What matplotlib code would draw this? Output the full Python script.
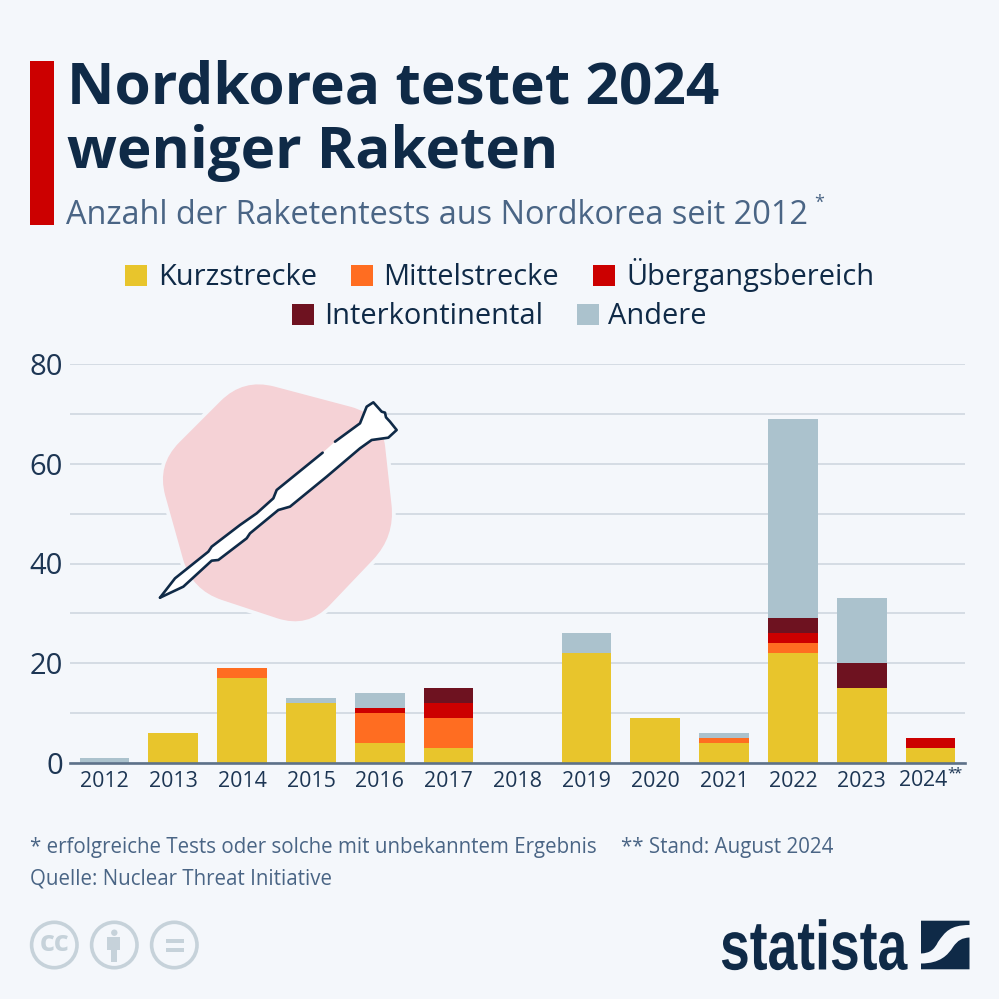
import matplotlib
matplotlib.use("Agg")
import matplotlib.pyplot as plt
import numpy as np
from matplotlib.path import Path
from matplotlib.patches import PathPatch, Rectangle, Circle
from matplotlib.patheffects import AbstractPathEffect
from matplotlib.transforms import Affine2D

years = ["2012","2013","2014","2015","2016","2017","2018","2019","2020","2021","2022","2023","2024$^{*\\!\\!*}$"]
kurz   = [0,6,17,12,4,3,0,22,9,4,22,15,3]
mittel = [0,0,2,0,6,6,0,0,0,1,2,0,0]
ueberg = [0,0,0,0,1,3,0,0,0,0,2,0,2]
inter  = [0,0,0,0,0,3,0,0,0,0,3,5,0]
andere = [1,0,0,1,3,0,0,4,0,1,40,13,0]
series_names = ["Kurzstrecke","Mittelstrecke","Übergangsbereich","Interkontinental","Andere"]
series_vals = [kurz,mittel,ueberg,inter,andere]
series_cols = ["#e8c52c","#ff6d21","#cc0000","#6e1220","#abc2cd"]

BG="#f4f7fb"; NAVY="#0f2a47"; SLATE="#4a6585"; GRID="#ccd4de"
plt.rcParams['font.family']=['Open Sans','DejaVu Sans']
plt.rcParams['mathtext.fontset']='custom'
plt.rcParams['mathtext.rm']='Open Sans'
plt.rcParams['mathtext.default']='regular'

fig=plt.figure(figsize=(9.99,9.99),dpi=100,facecolor=BG)
W=999.
ax=fig.add_axes([70/W,1-763/W,(965-70)/W,(763-364)/W],facecolor='none')
x=np.arange(len(years))
bottom=np.zeros(len(years))
for name,v,c in zip(series_names,series_vals,series_cols):
    ax.bar(x,v,0.72,bottom=bottom,color=c,label=name,zorder=3)
    bottom+=np.array(v)
ax.set_xlim(-0.5,12.5); ax.set_ylim(0,80)
ax.set_yticks([0,20,40,60,80]); ax.set_yticks([10,30,50,70],minor=True)
ax.set_xticks(x); ax.set_xticklabels(years,fontsize=15.4,color="#1d3654",va='baseline')
ax.tick_params(axis='x',length=0,pad=17.5)
ax.tick_params(axis='y',which='both',length=0,pad=5)
ax.tick_params(axis='y',labelsize=21,labelcolor="#1d3654")
ax.grid(axis='y',which='both',color=GRID,lw=1.1,zorder=1)
ax.set_axisbelow(True)
for s in ['top','left','right']: ax.spines[s].set_visible(False)
ax.spines['bottom'].set_color("#5d7189"); ax.spines['bottom'].set_linewidth(1.9); ax.spines['bottom'].set_zorder(4)

ov=fig.add_axes([0,0,1,1],facecolor='none'); ov.set_xlim(0,W); ov.set_ylim(W,0); ov.axis('off')

def P(x0,y0,x1,y1,c,z=5): ov.add_patch(Rectangle((x0,y0),x1-x0,y1-y0,fc=c,ec='none',zorder=z))
P(30,61,53.5,225,"#cc0000")
ov.text(67,88,"Nordkorea testet 2024",fontsize=42.1,fontweight='bold',color=NAVY,va='center',ha='left')
ov.text(67,153,"weniger Raketen",fontsize=42,fontweight='bold',color=NAVY,va='center',ha='left')
ov.text(66,216,"Anzahl der Raketentests aus Nordkorea seit 2012",fontsize=23.45,color=SLATE,va='center',ha='left')
ov.text(814,203,"*",fontsize=13,color=SLATE,va='center',ha='left')

leg=[(125,275.5,0,158),(351,275.5,1,383),(593,275.5,2,626),(292,314.5,3,324),(577,314.5,4,608)]
for lx,ly,i,tx in leg:
    P(lx,ly-10.5,lx+21.5,ly+10.5,series_cols[i])
    ov.text(tx,ly+9.5,series_names[i],fontsize=20.9,color=NAVY,va='baseline',ha='left')

ov.text(30,848,"* erfolgreiche Tests oder solche mit unbekanntem Ergebnis",fontsize=14.8,color=SLATE,va='center')
ov.text(621,848,"** Stand: August 2024",fontsize=14.8,color=SLATE,va='center')
ov.text(30,879,"Quelle: Nuclear Threat Initiative",fontsize=14.8,color=SLATE,va='center')

# hexagon badge with rounded corners
def rounded(pts,r):
    pts=np.array(pts,float); n=len(pts); v=[];c=[]
    for i in range(n):
        p=pts[i]; a=pts[i-1]; b=pts[(i+1)%n]
        s=p+(a-p)/np.linalg.norm(a-p)*r; e=p+(b-p)/np.linalg.norm(b-p)*r
        v+= [s,p,e]; c+=[Path.LINETO if i else Path.MOVETO,Path.CURVE3,Path.CURVE3]
    v.append(v[0]); c.append(Path.CLOSEPOLY)
    return Path(v,c)
hexa=[(140+z/3,370+w/3) for z,w in [(310,25),(725,135),(765,500),(503,775),(155,660),(50,285)]]
hp=rounded(hexa,32)
ov.add_patch(PathPatch(hp,fc=BG,ec=BG,lw=5.5,zorder=5))
ov.add_patch(PathPatch(hp,fc="#f5d2d6",ec='none',zorder=6))

top=[(60,683),(105,625),(205,545),(215,530),(300,465),(350,430),(400,385),(410,360),(548,248)]
rest=[(585,215),(660,160),(680,110),(700,97),(725,125),(735,128),(738,142),(750,155),(770,180),(745,203),(695,210),(660,235),(560,320),(450,410),(415,420),(330,490),(320,505),(235,570),(215,572),(130,650),(60,683)]
conv=lambda L:np.array([(140+a/3,370+b/3) for a,b in L])
full=conv(top+rest)
ov.fill(full[:,0],full[:,1],fc='white',ec='none',zorder=7)
for seg in (conv(top),conv(rest)):
    ov.plot(seg[:,0],seg[:,1],color=NAVY,lw=1.9,zorder=8,solid_joinstyle='round',solid_capstyle='round')

# licence icons
IC="#c6d2da"
for cx in (54.3,114.3,174.3):
    ov.add_patch(Circle((cx,945),22.7,fc='none',ec=IC,lw=2.6,zorder=5))
ov.text(54.3,943.5,"cc",fontsize=21,fontweight='bold',color=IC,ha='center',va='center',zorder=5)
ov.add_patch(Circle((114.3,932.7),3.2,fc=IC,ec='none',zorder=5))
P(107.3,937.3,120.2,950,IC); P(111,950,117.3,961.7,IC)
P(165.7,939.3,184,943.3,IC); P(165.7,947.7,184,951.7,IC)

# logo: real text narrowed horizontally at draw time
class Squeeze(AbstractPathEffect):
    def __init__(self,sx,x0):
        super().__init__(); self.sx=sx; self.x0=x0
    def draw_path(self,renderer,gc,tpath,affine,rgbFace=None):
        a=affine+Affine2D().translate(-self.x0,0).scale(self.sx,1).translate(self.x0,0)
        renderer.draw_path(gc,tpath,a,rgbFace)
ov.text(720,969.5,"statista",fontsize=50,fontweight='bold',family=['Liberation Sans'],color=NAVY,va='baseline',ha='left',zorder=5,
        path_effects=[Squeeze(0.77,720)])
up=Path([(921,920.7),(969.5,920.7),(969.5,925),(950,925),(945,932),(938,942),(934,950),(930,953),(921,953.5),(921,920.7)],
        [1,2,2,4,4,4,4,4,4,2])
lo=Path([(969.5,937.5),(969.5,969.3),(921,969.3),(921,963.5),(940,963.5),(948,955),(953,947),(958,940),(962,938),(969.5,937.5)],
        [1,2,2,2,4,4,4,4,4,4])
ov.add_patch(PathPatch(up,fc=NAVY,ec='none',zorder=5)); ov.add_patch(PathPatch(lo,fc=NAVY,ec='none',zorder=5))

fig.savefig("out.png",dpi=100,facecolor=BG)
